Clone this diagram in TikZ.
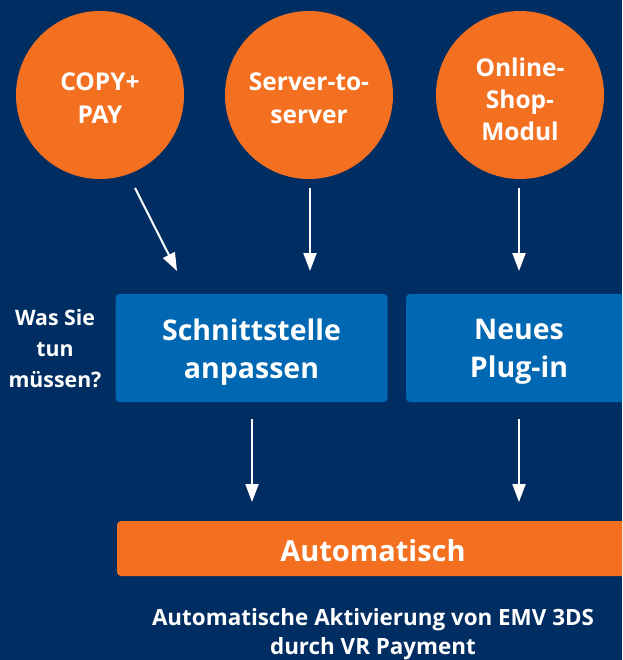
\documentclass[tikz,border=0pt]{standalone}
\usepackage{fontspec}
\setmainfont{Open Sans}
\usetikzlibrary{arrows.meta}
\definecolor{navy}{RGB}{0,45,98}
\definecolor{vrorange}{RGB}{243,112,33}
\definecolor{vrblue}{RGB}{0,103,178}
\begin{document}
\begin{tikzpicture}[x=1pt,y=-1pt,
  circ/.style={circle, fill=vrorange, minimum size=168pt, inner sep=0pt},
  ctext/.style={text=white, align=center, inner sep=0pt, yshift=-3.5pt,
    font=\bfseries\fontsize{24.5}{33}\selectfont},
  bluebox/.style={rectangle, rounded corners=4pt, fill=vrblue, inner sep=0pt},
  btext/.style={text=white, align=center, inner sep=0pt, yshift=-4pt,
    font=\bfseries\fontsize{28.5}{38}\selectfont},
  orangebar/.style={rectangle, rounded corners=4pt, fill=vrorange, inner sep=0pt},
  otext/.style={text=white, align=center, inner sep=0pt, yshift=-2pt,
    font=\bfseries\fontsize{29}{36}\selectfont},
  freetext/.style={text=white, align=center, inner sep=0pt},
  flow/.style={draw=white, line width=2pt, -{Triangle[length=18pt,width=13pt]}}
]
\useasboundingbox (0,0) rectangle (622,660);
\clip (0,0) rectangle (622,660);
\fill[navy] (0,0) rectangle (622,660);

\node[circ, label={[ctext]center:{COPY+\\PAY}}] (c1) at (100,95) {};
\node[circ, label={[ctext]center:{Server-to-\\server}}] (c2) at (309,95) {};
\node[circ, label={[ctext, yshift=-0.5pt, font=\bfseries\fontsize{24.5}{32}\selectfont]center:{Online-\\Shop-\\Modul}}] (c3) at (520,95) {};

\node[freetext, font=\bfseries\fontsize{21.3}{31}\selectfont] (q) at (55,349) {Was Sie\\tun\\müssen?};

\node[bluebox, minimum width=272pt, minimum height=108pt,
  label={[btext]center:{Schnittstelle\\anpassen}}] (b1) at (251.5,348) {};
\node[bluebox, minimum width=226pt, minimum height=108pt,
  label={[btext]center:{Neues\\Plug-in}}] (b2) at (519,348) {};

\node[orangebar, minimum width=512pt, minimum height=55pt,
  label={[otext]center:Automatisch}] (auto) at (373,548.5) {};

\node[freetext, font=\bfseries\fontsize{22.4}{29}\selectfont] (note) at (373,634) {Automatische Aktivierung von EMV 3DS\\durch VR Payment};

\coordinate (a1s) at (135,188);
\coordinate (a1e) at (177,271);
\coordinate (a2s) at (310,188);
\coordinate (a2e) at (310,271);
\coordinate (a3s) at (519,188);
\coordinate (a3e) at (519,271);
\coordinate (a4s) at (252,419);
\coordinate (a4e) at (252,502);
\coordinate (a5s) at (519,419);
\coordinate (a5e) at (519,502);

\draw[flow] (a1s) -- (a1e);
\draw[flow] (a2s) -- (a2e);
\draw[flow] (a3s) -- (a3e);
\draw[flow] (a4s) -- (a4e);
\draw[flow] (a5s) -- (a5e);
\end{tikzpicture}
\end{document}
